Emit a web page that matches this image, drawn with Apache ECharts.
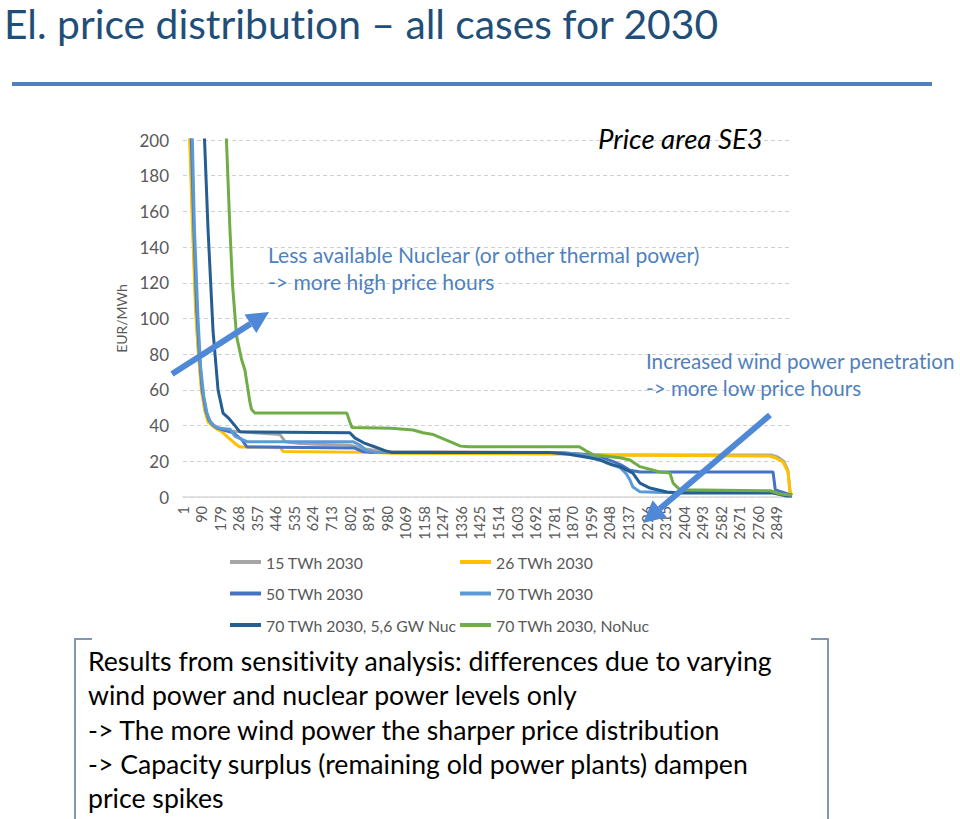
<!DOCTYPE html>
<html>
<head>
<meta charset="utf-8">
<script src="https://cdn.jsdelivr.net/npm/echarts@6/dist/echarts.min.js"></script>
<style>
  html, body { margin: 0; padding: 0; background: #fff; }
  #main { width: 960px; height: 819px; }
  #main text { font-variant-ligatures: none; font-feature-settings: "liga" 0, "clig" 0; }
</style>
</head>
<body>
<div id="main"></div>
<script>
// hour index labels shown on the x axis (every 89th hour)
const hourTicks = ['1','90','179','268','357','446','535','624','713','802','891','980','1069','1158','1247',
  '1336','1425','1514','1603','1692','1781','1870','1959','2048','2137','2226','2315','2404','2493','2582',
  '2671','2760','2849'];

const caseNames = ['15 TWh 2030', '26 TWh 2030', '50 TWh 2030', '70 TWh 2030',
  '70 TWh 2030, 5,6 GW Nuc', '70 TWh 2030, NoNuc'];

// price duration curves, [hour, EUR/MWh]
const wind15 = [[0,400],[34,200],[48,150],[62,105],[75,80],[90,60],[108,48],[125,43],[150,40],[185,38],
  [230,37],[340,36],[465,35],[490,31],[560,30],[640,29.5],[800,29],[870,27],[950,25.5],[1750,25],
  [1850,24.5],[1950,23.8],[2050,23.5],[2820,23.5],[2850,22.5],[2880,20],[2900,15],[2912,2],[2920,1]];
const wind26 = [[0,400],[32,200],[46,150],[60,105],[74,80],[88,60],[105,48],[120,42],[150,39],[187,36.5],
  [220,33],[249,30],[273,28],[465,28],[480,25.5],[900,25],[1000,24.5],[1900,24],[2000,23.5],[2810,23],
  [2840,22],[2877,19.6],[2901,14],[2911,2],[2920,1]];
const wind50 = [[0,400],[40,200],[52,150],[66,105],[78,80],[92,60],[110,48],[125,43],[145,40],[163,38.6],
  [240,36],[283,32],[307,28],[820,27.5],[860,25.5],[900,25],[1800,25],[1900,24],[1950,23.5],[2000,22.5],
  [2060,20],[2100,18],[2143,15],[2191,14],[2829,14],[2840,4],[2900,1.7],[2920,1]];
const wind70 = [[0,400],[45,200],[55,150],[72,100],[85,72],[100,56],[115,47],[135,41],[163,38.6],[225,38],
  [250,34],[307,31],[815,31],[850,29],[880,26],[920,25],[1800,25],[1900,24],[1960,22.5],[2000,21],
  [2033,19],[2095,16.5],[2125,13],[2143,9.5],[2157,5.6],[2191,3],[2300,2.5],[2829,2.5],[2896,1],[2920,0.5]];
const wind70Nuc = [[0,600],[100,210],[120,150],[144,93],[168,60],[192,47],[220,44],[249,40],[273,36.5],
  [800,36],[825,33],[873,30],[921,28],[969,26],[1000,25],[1750,25],[1850,24],[1950,22],[2000,20.7],
  [2060,18],[2095,17],[2157,13.4],[2191,7.8],[2239,5],[2320,2.8],[2383,2.2],[2829,2.2],[2896,0.6],[2920,0.5]];
const wind70NoNuc = [[0,800],[205,210],[225,150],[238,118],[257,90],[281,77],[297,71],[321,53],[329,49],
  [345,47],[786,47],[800,42],[810,39],[1000,38.5],[1103,37.5],[1150,36],[1200,35],[1240,33],[1300,30],
  [1330,28.5],[1370,28.2],[1900,28.2],[1930,26],[1970,23.5],[2095,22],[2143,20.7],[2191,17],[2287,14],
  [2335,13.4],[2350,7.8],[2383,4],[2815,3.5],[2863,1.7],[2920,1]];

const caseData = [wind15, wind26, wind50, wind70, wind70Nuc, wind70NoNuc];
const caseColors = ['#A5A5A5', '#FFC000', '#4472C4', '#5B9BD5', '#255E91', '#70AD47'];

const FONT = "Lato, 'Open Sans', sans-serif";
const NOTE = '#4F81BD';
const ARROW = '#4F88D6';

// pick a font size so a line of text gets the width it has in the slide
const ctx = document.createElement('canvas').getContext('2d');
function fitSize(text, width, style) {
  ctx.font = (style || '') + ' 100px ' + FONT;
  return 100 * width / ctx.measureText(text).width;
}

const titleText = 'El. price distribution \u2013 all cases for 2030';
const boxLines = [
  'Results from sensitivity analysis: differences due to varying',
  'wind power and nuclear power levels only',
  '-> The more wind power the sharper price distribution',
  '-> Capacity surplus (remaining old power plants) dampen',
  'price spikes'
];
const titleSize = fitSize(titleText, 716);
const areaSize = fitSize('Price area SE3', 165, 'italic');
const noteSize = fitSize('Less available Nuclear (or other thermal power)', 433);
const windNoteSize = fitSize('Increased wind power penetration', 310);
const boxSize = fitSize(boxLines[0], 685);
const legendSize = fitSize('70 TWh 2030, 5,6 GW Nuc', 191);

function txt(x, y, text, size, fill, extra) {
  return {
    type: 'text', x: x, y: y, z: 100,
    style: Object.assign({ text: text, fontSize: size, fontFamily: FONT, fill: fill, verticalAlign: 'middle' }, extra || {})
  };
}

function arrow(x1, y1, x2, y2) {
  const a = Math.atan2(y2 - y1, x2 - x1), L = 22, W = 11;
  const bx = x2 - L * Math.cos(a), by = y2 - L * Math.sin(a);
  const nx = -Math.sin(a), ny = Math.cos(a);
  return [
    { type: 'line', z: 100, shape: { x1: x1, y1: y1, x2: bx, y2: by }, style: { stroke: ARROW, lineWidth: 6 } },
    { type: 'polygon', z: 100, shape: { points: [[x2, y2], [bx + nx * W, by + ny * W], [bx - nx * W, by - ny * W]] },
      style: { fill: ARROW } }
  ];
}

const chart = echarts.init(document.getElementById('main'), null, { renderer: 'svg' });

const graphics = [
  txt(4, 23, titleText, titleSize, '#1F4E79'),
  { type: 'line', z: 100, shape: { x1: 12, y1: 84, x2: 932, y2: 84 }, style: { stroke: '#4F81BD', lineWidth: 4 } },
  txt(598, 138, 'Price area SE3', areaSize, '#000', { fontStyle: 'italic' }),
  txt(268, 254, 'Less available Nuclear (or other thermal power)', noteSize, NOTE),
  txt(268, 281, '-> more high price hours', noteSize, NOTE),
  txt(646, 361, 'Increased wind power penetration', windNoteSize, NOTE),
  txt(646, 388, '-> more low price hours', windNoteSize, NOTE),
  ...arrow(172, 374, 269, 312),
  ...arrow(770, 415, 643, 523),
  { type: 'polyline', z: 100, shape: { points: [[92, 639], [75, 639], [75, 819]] },
    style: { stroke: '#8497B0', lineWidth: 2, fill: null } },
  { type: 'polyline', z: 100, shape: { points: [[811, 639], [828, 639], [828, 819]] },
    style: { stroke: '#8497B0', lineWidth: 2, fill: null } }
];
boxLines.forEach(function (line, i) {
  graphics.push(txt(88, 661 + i * 34.3, line, boxSize, '#000'));
});

const legendBase = {
  orient: 'vertical', icon: 'rect', itemWidth: 31, itemHeight: 4, itemGap: 11.5, top: 547,
  textStyle: { color: '#595959', fontSize: legendSize, fontFamily: FONT, lineHeight: 20 },
  selectedMode: false
};

chart.setOption({
  animation: false,
  backgroundColor: '#fff',
  grid: { left: 183, right: 168, top: 140, bottom: 322 },
  legend: [
    Object.assign({ left: 225, data: [caseNames[0], caseNames[2], caseNames[4]] }, legendBase),
    Object.assign({ left: 455, data: [caseNames[1], caseNames[3], caseNames[5]] }, legendBase)
  ],
  xAxis: {
    type: 'value', min: 0, max: 2920, interval: 89,
    axisLine: { lineStyle: { color: '#D9D9D9', width: 1.5 } },
    axisTick: { show: false },
    splitLine: { show: false },
    axisLabel: {
      rotate: 90, margin: 9, color: '#595959', fontSize: 14.5, fontFamily: FONT, showMaxLabel: false,
      formatter: function (v) { return hourTicks[Math.round(v / 89)] || ''; }
    }
  },
  yAxis: {
    type: 'value', min: 0, max: 200, interval: 20,
    name: 'EUR/MWh', nameLocation: 'middle', nameRotate: 90, nameGap: 51,
    nameTextStyle: { color: '#595959', fontSize: 14, fontFamily: FONT },
    axisLine: { show: false }, axisTick: { show: false },
    axisLabel: { color: '#595959', fontSize: 17, fontFamily: FONT, margin: 14 },
    splitLine: { lineStyle: { color: '#D0D0D0', type: [4, 3], width: 1 } }
  },
  series: caseData.map(function (d, i) {
    return {
      name: caseNames[i], type: 'line', data: d, showSymbol: false, symbol: 'none', clip: true,
      lineStyle: { width: 3, color: caseColors[i] }, itemStyle: { color: caseColors[i] }
    };
  }),
  graphic: graphics
});
</script>
</body>
</html>
